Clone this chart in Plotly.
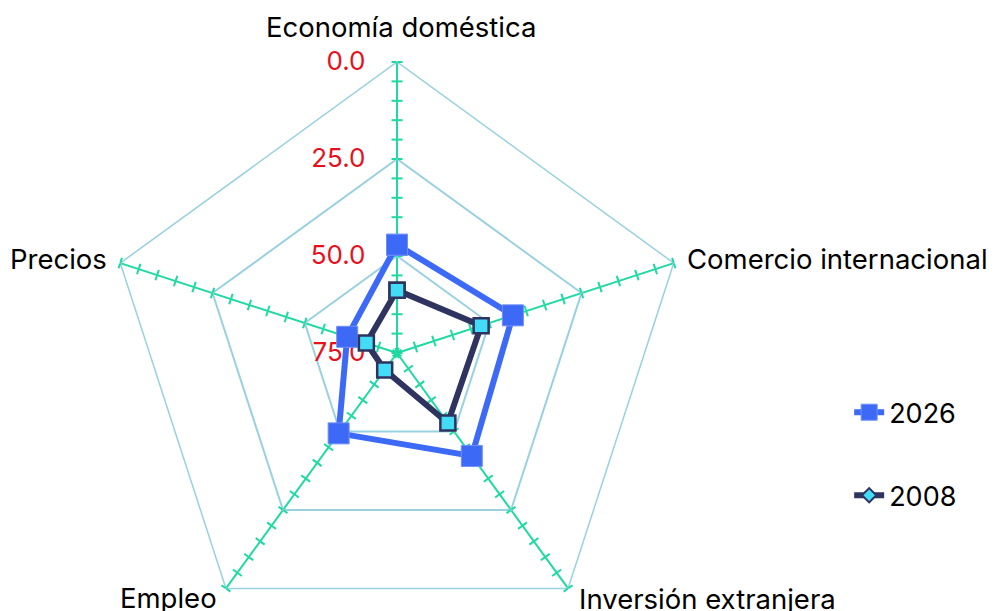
import plotly.graph_objects as go

# ----- data
categories = ['Economía doméstica', 'Comercio internacional', 'Inversión extranjera', 'Empleo', 'Precios']
vals_2026 = [47.1, 43.6, 42.2, 49.4, 61.5]
vals_2008 = [58.8, 52.2, 52.7, 69.6, 66.7]
radial_ticks = [0, 25, 50, 75]
spoke_angles = [90, 18, -54, -126, 162]

# ----- style
font_family = 'Inter'
blue = '#3d69f7'
navy = '#2f3360'
cyan = '#42dcf7'
green = '#1ed9a2'
grid_blue = '#98d1df'
red = '#e8101c'

dom = dict(x=[0.0981, 0.6807], y=[0.00625, 0.915625])
r_range = [75, 0]
top = 'polar12'

# category label placement (paper coords, anchors) -- same order as categories
label_pos = [
    dict(x=0.3934, y=0.9708, xanchor='center'),
    dict(x=0.6777, y=0.6078, xanchor='left'),
    dict(x=0.5696, y=0.0766, xanchor='left'),
    dict(x=0.2112, y=0.0789, xanchor='right'),
    dict(x=0.1011, y=0.6078, xanchor='right'),
]


def empty(subplot):
    # polar subplots are only drawn when a trace points at them
    return go.Scatterpolar(r=[None], theta=[categories[0]], subplot=subplot,
                           showlegend=False, hoverinfo='skip', mode='markers')


fig = go.Figure()

fig.add_trace(empty('polar'))
for k in range(2, 12):
    fig.add_trace(empty(f'polar{k}'))

# data traces live on the top-most polar subplot
fig.add_trace(go.Scatterpolar(
    r=vals_2026 + vals_2026[:1], theta=categories + categories[:1], subplot=top,
    name='2026', legendgroup='a', mode='lines+markers',
    line=dict(color=blue, width=6),
    marker=dict(symbol='square', size=21, color=blue, line=dict(color='#6f8ff9', width=1))))
fig.add_trace(go.Scatterpolar(
    r=vals_2008 + vals_2008[:1], theta=categories + categories[:1], subplot=top,
    name='2008', showlegend=False, mode='lines+markers',
    line=dict(color=navy, width=6),
    marker=dict(symbol='square', size=15, color=cyan, line=dict(color=navy, width=2.5))))
# legend entry for 2008 (diamond marker)
fig.add_trace(go.Scatterpolar(
    r=[None], theta=[categories[0]], subplot=top, name='2008', legendgroup='b', mode='lines+markers',
    line=dict(color=navy, width=6),
    marker=dict(symbol='diamond', size=11, color=cyan, line=dict(color=navy, width=2))))

layout = dict(
    width=999, height=640,
    margin=dict(l=0, r=0, t=0, b=0),
    paper_bgcolor='white',
    font=dict(family=font_family, color='black'),
    showlegend=True,
    legend=dict(x=0.842, y=0.406, xanchor='left', yanchor='top', tracegroupgap=45,
                font=dict(size=27, color='black'), bgcolor='rgba(0,0,0,0)'),
    annotations=[dict(text=c, xref='paper', yref='paper', yanchor='middle', showarrow=False,
                      font=dict(size=27.5, color='black'), **p)
                 for c, p in zip(categories, label_pos)],
)

ang_common = dict(type='category', categoryarray=categories, rotation=90, direction='clockwise')

# base polar: grid, spokes, radial labels
layout['polar'] = dict(
    domain=dom, gridshape='linear', bgcolor='rgba(0,0,0,0)',
    angularaxis=dict(**ang_common, showline=True, linecolor=grid_blue, linewidth=1.5,
                     showgrid=True, gridcolor=green, gridwidth=1.5,
                     ticks='', showticklabels=False),
    radialaxis=dict(range=r_range, angle=90, side='counterclockwise', tickvals=radial_ticks,
                    tickformat='.1f', tickfont=dict(size=26, color=red), tickangle=90,
                    showline=False, ticks='outside', ticklen=22, tickcolor='rgba(0,0,0,0)',
                    showgrid=True, gridcolor=grid_blue, gridwidth=1.5),
)

# tick marks crossing every spoke
k = 2
for ang in spoke_angles:
    for side in ['outside', 'inside']:
        layout[f'polar{k}'] = dict(
            domain=dom, gridshape='linear', bgcolor='rgba(0,0,0,0)',
            angularaxis=dict(**ang_common, visible=False),
            radialaxis=dict(range=r_range, angle=ang, tickvals=list(range(0, 76, 5)),
                            ticks=side, ticklen=5, tickwidth=1.5, tickcolor=green,
                            showticklabels=False, showline=False, showgrid=False))
        k += 1

layout[top] = dict(
    domain=dom, gridshape='linear', bgcolor='rgba(0,0,0,0)',
    angularaxis=dict(**ang_common, visible=False),
    radialaxis=dict(range=r_range, visible=False))

fig.update_layout(**layout)
fig.write_html('out.html')
